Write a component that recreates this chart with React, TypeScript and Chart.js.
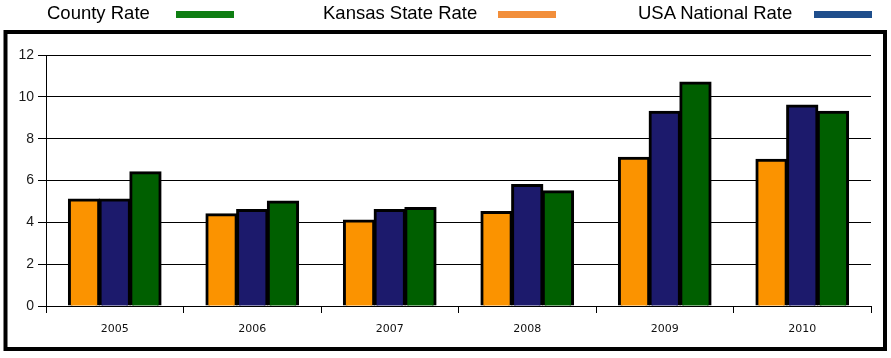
import React, { useEffect, useRef } from "react";
import { Chart, registerables } from "chart.js";

Chart.register(...registerables);

const years = ["2005", "2006", "2007", "2008", "2009", "2010"];
const kansasRate = [5.1, 4.4, 4.1, 4.5, 7.1, 7.0];
const usaRate = [5.1, 4.6, 4.6, 5.8, 9.3, 9.6];
const countyRate = [6.4, 5.0, 4.7, 5.5, 10.7, 9.3];
const yTicks = [0, 2, 4, 6, 8, 10, 12];

const legendItems = [
  { label: "County Rate", color: "#0E7E12", tx: 47, lx: 176 },
  { label: "Kansas State Rate", color: "#F28E3A", tx: 323, lx: 498 },
  { label: "USA National Rate", color: "#1F4E8C", tx: 638, lx: 814 },
];

const boxPlugin = {
  id: "outerBox",
  afterDraw(chart: any) {
    const ctx = chart.ctx;
    ctx.save();
    ctx.strokeStyle = "#000";
    ctx.lineWidth = 4;
    ctx.strokeRect(5.5, 32, 879.5, 317);
    ctx.restore();
  },
};

export default function App() {
  const ref = useRef<HTMLCanvasElement>(null);
  useEffect(() => {
    const chart = new Chart(ref.current!, {
      type: "bar",
      data: {
        labels: years,
        datasets: [
          { label: "Kansas State Rate", data: kansasRate, backgroundColor: "#FB9300", borderColor: "#000", borderWidth: 3 },
          { label: "USA National Rate", data: usaRate, backgroundColor: "#1C1A6C", borderColor: "#000", borderWidth: 3 },
          { label: "County Rate", data: countyRate, backgroundColor: "#005F00", borderColor: "#000", borderWidth: 3 },
        ],
      },
      options: {
        animation: false,
        responsive: false,
        maintainAspectRatio: false,
        devicePixelRatio: 1,
        layout: { padding: { left: 0, top: 55, right: 20, bottom: 0 } },
        plugins: { legend: { display: false }, tooltip: { enabled: false } },
        datasets: { bar: { categoryPercentage: 0.67, barPercentage: 1, inflateAmount: 0.8 } },
        scales: {
          x: {
            offset: true,
            grid: { offset: true, drawOnChartArea: false, drawTicks: true, tickLength: 7, color: "#000", lineWidth: 1 },
            border: { color: "#000", width: 1 },
            ticks: { color: "#111", font: { family: "DejaVu Sans", size: 11 }, padding: 10 },
            afterFit: (s: any) => { s.height = 52; },
          },
          y: {
            min: 0,
            max: 12,
            afterBuildTicks: (s: any) => { s.ticks = yTicks.map((v) => ({ value: v })); },
            grid: { color: "#000", lineWidth: 1, tickLength: 8 },
            border: { color: "#000", width: 1 },
            ticks: { color: "#1a1a1a", font: { family: "Liberation Sans", size: 14 }, padding: 4 },
            afterFit: (s: any) => { s.width = 46; },
          },
        },
      },
      plugins: [boxPlugin],
    });
    return () => chart.destroy();
  }, []);
  return (
    <div style={{ position: "fixed", left: 0, top: 0, width: 891, height: 358, background: "#fff" }}>
      <canvas ref={ref} width={891} height={358} style={{ position: "absolute", left: 0, top: 0 }} />
      {legendItems.map((it) => (
        <React.Fragment key={it.label}>
          <span
            style={{
              position: "absolute",
              left: it.tx,
              top: 1,
              fontFamily: "'Liberation Sans', sans-serif",
              fontSize: 18.5,
              lineHeight: "24px",
              color: "#000",
              whiteSpace: "nowrap",
            }}
          >
            {it.label}
          </span>
          <div style={{ position: "absolute", left: it.lx, top: 11, width: 58, height: 7, background: it.color }} />
        </React.Fragment>
      ))}
    </div>
  );
}
